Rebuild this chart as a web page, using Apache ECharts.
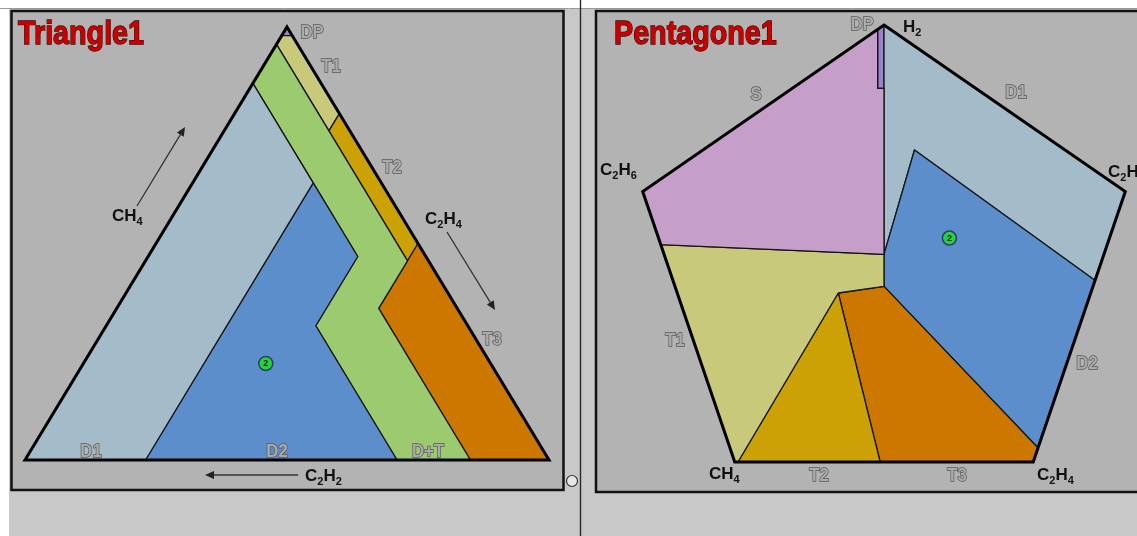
<!DOCTYPE html>
<html>
<head>
<meta charset="utf-8">
<script src="https://cdn.jsdelivr.net/npm/echarts@6/dist/echarts.min.js"></script>
<style>
  html, body { margin: 0; padding: 0; background: #ffffff; }
  #chart { width: 1137px; height: 536px; }
</style>
</head>
<body>
<div id="chart"></div>
<script>
// ---- Duval Triangle 1: zone vertices as [CH4 %, C2H4 %, C2H2 %] ----
const triZoneNames = ['PD', 'T1', 'T2', 'T3', 'DT', 'D2', 'D1'];
const triZones = [
  [[100, 0, 0], [98, 2, 0], [98, 0, 2]],
  [[98, 2, 0], [80, 20, 0], [76, 20, 4], [96, 0, 4], [98, 0, 2]],
  [[80, 20, 0], [50, 50, 0], [46, 50, 4], [76, 20, 4]],
  [[50, 50, 0], [0, 100, 0], [0, 85, 15], [35, 50, 15]],
  [[96, 0, 4], [76, 20, 4], [46, 50, 4], [35, 50, 15], [0, 85, 15], [0, 71, 29],
   [31, 40, 29], [47, 40, 13], [64, 23, 13], [87, 0, 13]],
  [[64, 23, 13], [47, 40, 13], [31, 40, 29], [0, 71, 29], [0, 23, 77]],
  [[87, 0, 13], [64, 23, 13], [0, 23, 77], [0, 0, 100]]
];
const triCorners = [[100, 0, 0], [0, 100, 0], [0, 0, 100]];
const triSample = [22.3, 34.8, 42.9];   // CH4, C2H4, C2H2 (%)

// ---- Duval Pentagon 1: zone vertices in pentagon coordinates [x, y] ----
const pentZoneNames = ['PD', 'D1', 'D2', 'T3', 'T2', 'T1', 'S'];
const pentZones = [
  [[0, 40], [-1, 39.3], [-1, 29.5], [0, 29.5]],
  [[0, 40], [38, 12.4], [33.2, -2.3], [4.8, 19.3], [0, 2]],
  [[4.8, 19.3], [33.2, -2.3], [24.2, -30], [0, -3.3], [0, 2]],
  [[0, -3.3], [24.2, -30], [23.5, -32.4], [-0.6, -32.4], [-7.2, -4.4]],
  [[-7.2, -4.4], [-0.6, -32.4], [-23, -32.4]],
  [[-7.2, -4.4], [-23, -32.4], [-23.5, -32.4], [-35.2, 3.6], [0, 2], [0, -3.3]],
  [[0, 2], [-35.2, 3.6], [-38, 12.4], [-1, 39.3], [-1, 29.5], [0, 29.5]]
];
// H2, C2H2, C2H4, CH4, C2H6
const pentCorners = [[0, 40], [38, 12.4], [23.5, -32.4], [-23.5, -32.4], [-38, 12.4]];
const pentSample = [10.3, 4.7];
const sampleId = '2';

// ---- zone fills ----
const zoneColor = {
  PD: '#9b83d0', D1: '#a4bbc9', D2: '#5b8ecb', DT: '#9bca6f',
  T1: '#c9c97c', T2: '#cca105', T3: '#cc7700', S: '#c59ec9'
};

const FONT = "'Liberation Sans', Arial, Helvetica, sans-serif";

// ternary [CH4, C2H4, C2H2] -> plane (CH4 apex on top, C2H4 bottom-right, C2H2 bottom-left)
function ternaryToXY(p) { return [p[1] / 100 + p[0] / 200, p[0] / 100]; }
function centroid(pts) {
  let x = 0, y = 0;
  pts.forEach(p => { x += p[0]; y += p[1]; });
  return [x / pts.length, y / pts.length];
}

function zoneSeries(axisIdx, polys, names) {
  return {
    type: 'custom', coordinateSystem: 'cartesian2d',
    xAxisIndex: axisIdx, yAxisIndex: axisIdx, silent: true, z: 2,
    data: polys.map(centroid),
    renderItem: (params, api) => ({
      type: 'polygon',
      shape: { points: polys[params.dataIndex].map(p => api.coord(p)) },
      style: { fill: zoneColor[names[params.dataIndex]], stroke: '#151515', lineWidth: 1.3, lineJoin: 'round' }
    })
  };
}
function outlineSeries(axisIdx, pts) {
  return {
    type: 'custom', coordinateSystem: 'cartesian2d',
    xAxisIndex: axisIdx, yAxisIndex: axisIdx, silent: true, z: 3,
    data: [centroid(pts)],
    renderItem: (params, api) => ({
      type: 'polygon',
      shape: { points: pts.map(p => api.coord(p)) },
      style: { fill: null, stroke: '#000', lineWidth: 3, lineJoin: 'miter' }
    })
  };
}
function sampleSeries(axisIdx, point) {
  return {
    type: 'scatter', xAxisIndex: axisIdx, yAxisIndex: axisIdx, z: 5, silent: true,
    symbol: 'circle', symbolSize: 14, data: [point],
    itemStyle: { color: '#1fe01f', borderColor: '#1d2c5a', borderWidth: 1.6 },
    label: { show: true, position: 'inside', formatter: sampleId, fontSize: 9, fontWeight: 'bold', color: '#000', fontFamily: FONT }
  };
}

const triPolys = triZones.map(z => z.map(ternaryToXY));
const triOutline = triCorners.map(ternaryToXY);

// ---- annotation helpers (graphic layer) ----
function title(text, x, y) {
  return {
    type: 'text', x: x, y: y, scaleX: 0.87, z: 50,
    style: {
      text: text, font: `bold 33px ${FONT}`, fill: '#c80000',
      stroke: '#400000', lineWidth: 1.3, align: 'left', verticalAlign: 'middle',
      shadowColor: 'rgba(30,0,0,0.8)', shadowBlur: 3, shadowOffsetX: 2, shadowOffsetY: 2
    }
  };
}
function zoneLabel(text, x, y) {
  return {
    type: 'text', x: x, y: y, scaleX: 0.88, z: 50,
    style: {
      text: text, font: `bold 19px ${FONT}`, fill: '#aaaaaa',
      stroke: '#595959', lineWidth: 1.5, align: 'center', verticalAlign: 'middle'
    }
  };
}
const gasRich = {
  n: { fontSize: 17, fontWeight: 'bold', fontFamily: FONT, fill: '#111', lineHeight: 22, verticalAlign: 'middle' },
  s: { fontSize: 11, fontWeight: 'bold', fontFamily: FONT, fill: '#111', lineHeight: 22, verticalAlign: 'bottom' }
};
function gasLabel(rich, x, y) {
  return {
    type: 'text', x: x, y: y - 11, z: 50,
    style: { text: rich, rich: gasRich, align: 'left', verticalAlign: 'top' }
  };
}
function arrow(x1, y1, x2, y2) {
  const a = Math.atan2(y2 - y1, x2 - x1), L = 9, W = 4;
  const bx = x2 - L * Math.cos(a), by = y2 - L * Math.sin(a);
  return [
    { type: 'line', z: 40, shape: { x1: x1, y1: y1, x2: bx, y2: by }, style: { stroke: '#333', lineWidth: 1.3 } },
    { type: 'polygon', z: 40, shape: { points: [[x2, y2],
        [bx + W * Math.sin(a), by - W * Math.cos(a)], [bx - W * Math.sin(a), by + W * Math.cos(a)]] },
      style: { fill: '#222' } }
  ];
}

const graphics = [
  // page backdrop and the two framed panels
  { type: 'rect', z: -10, shape: { x: 9, y: 9, width: 1128, height: 527 }, style: { fill: '#c8c8c8' } },
  { type: 'line', z: -9, shape: { x1: 0, y1: 8.5, x2: 1137, y2: 8.5 }, style: { stroke: '#9a9a9a', lineWidth: 1 } },
  { type: 'rect', z: -8, shape: { x: 11.5, y: 11, width: 552, height: 479 }, style: { fill: '#b3b3b3', stroke: '#111', lineWidth: 2.5 } },
  { type: 'rect', z: -8, shape: { x: 596, y: 11, width: 560, height: 481 }, style: { fill: '#b3b3b3', stroke: '#111', lineWidth: 2.5 } },
  { type: 'line', z: -7, shape: { x1: 580.5, y1: 0, x2: 580.5, y2: 536 }, style: { stroke: '#2a2a2a', lineWidth: 1.4 } },
  { type: 'circle', z: 30, shape: { cx: 572, cy: 481, r: 5.5 }, style: { fill: '#e6e6e6', stroke: '#333', lineWidth: 1.2 } },

  title('Triangle1', 18, 35),
  title('Pentagone1', 614, 35),

  // triangle zone names
  zoneLabel('DP', 312, 33),
  zoneLabel('T1', 331, 67),
  zoneLabel('T2', 392, 168),
  zoneLabel('T3', 492, 340),
  zoneLabel('D1', 91, 452),
  zoneLabel('D2', 277, 452),
  zoneLabel('D+T', 428, 452),

  // triangle gas axes
  gasLabel('{n|CH}{s|4}', 112, 216),
  gasLabel('{n|C}{s|2}{n|H}{s|4}', 425, 219),
  gasLabel('{n|C}{s|2}{n|H}{s|2}', 305, 476),
  ...arrow(137, 206, 185, 127),
  ...arrow(447, 232, 495, 310),
  ...arrow(298, 475, 205, 475),

  // pentagon zone names
  zoneLabel('DP', 862, 25),
  zoneLabel('D1', 1016, 93),
  zoneLabel('S', 756, 95),
  zoneLabel('T1', 675, 341),
  zoneLabel('D2', 1087, 364),
  zoneLabel('T2', 819, 476),
  zoneLabel('T3', 957, 476),

  // pentagon gas corners
  gasLabel('{n|H}{s|2}', 903, 27),
  gasLabel('{n|C}{s|2}{n|H}{s|2}', 1108, 172),
  gasLabel('{n|C}{s|2}{n|H}{s|6}', 600, 170),
  gasLabel('{n|CH}{s|4}', 709, 474),
  gasLabel('{n|C}{s|2}{n|H}{s|4}', 1037, 475)
];

const chart = echarts.init(document.getElementById('chart'), null, { renderer: 'canvas' });
chart.setOption({
  animation: false,
  backgroundColor: 'transparent',
  grid: [
    { left: 25, top: 27, width: 524, height: 433 },
    { left: 642.7, top: 25, width: 482.6, height: 437 }
  ],
  xAxis: [
    { gridIndex: 0, type: 'value', min: 0, max: 1, show: false },
    { gridIndex: 1, type: 'value', min: -38, max: 38, show: false }
  ],
  yAxis: [
    { gridIndex: 0, type: 'value', min: 0, max: 1, show: false },
    { gridIndex: 1, type: 'value', min: -32.4, max: 40, show: false }
  ],
  graphic: { elements: graphics },
  series: [
    zoneSeries(0, triPolys, triZoneNames),
    outlineSeries(0, triOutline),
    sampleSeries(0, ternaryToXY(triSample)),
    zoneSeries(1, pentZones, pentZoneNames),
    outlineSeries(1, pentCorners),
    sampleSeries(1, pentSample)
  ]
});
</script>
</body>
</html>
